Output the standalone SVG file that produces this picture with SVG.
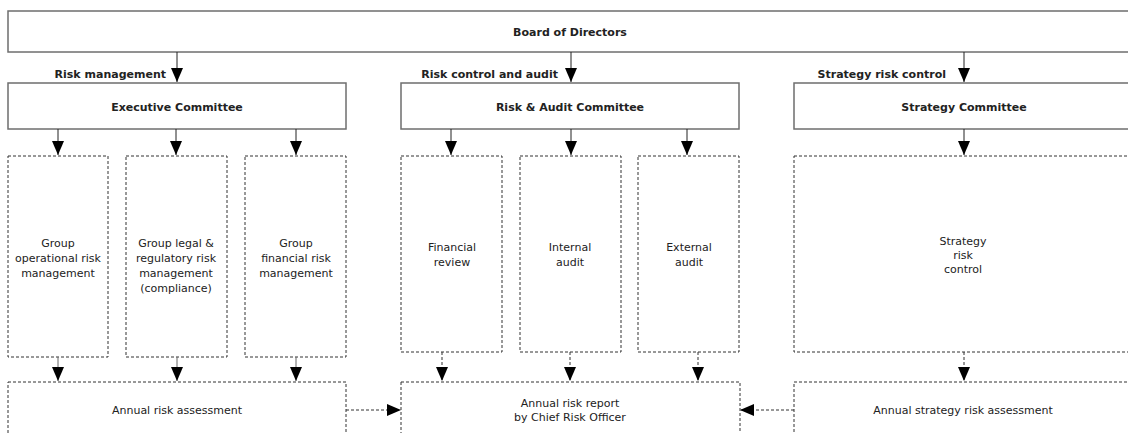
<svg xmlns="http://www.w3.org/2000/svg" width="1128" height="433" viewBox="0 0 1128 433">
<style>
text{font-family:"DejaVu Sans",Verdana,sans-serif;font-size:11px;fill:#222;text-anchor:middle}
.b{font-weight:bold}
.lbl{font-weight:bold;text-anchor:end}
.box{fill:#fff;stroke:#6e6e6e;stroke-width:1.5}
.dbox{fill:#fff;stroke:#333;stroke-width:1;stroke-dasharray:3,2}
.c{stroke:#222;stroke-width:1;fill:none;marker-end:url(#ah)}
.cg{stroke:#666;stroke-width:1;fill:none;marker-end:url(#ah)}
.cd{stroke:#333;stroke-width:1;fill:none;stroke-dasharray:3,2;marker-end:url(#ah)}
</style>
<defs>
<marker id="ah" markerUnits="userSpaceOnUse" markerWidth="14" markerHeight="12" refX="14" refY="6" orient="auto">
<path d="M0,0 L14,6 L0,12 Z" fill="#000"/>
</marker>
</defs>
<rect width="1128" height="433" fill="#fff"/>
<g id="board"><rect class="box" x="8" y="11" width="1130" height="41"/><text class="b" x="570" y="36">Board of Directors</text></g>
<g id="exec"><rect class="box" x="8" y="83" width="338" height="46"/><text class="b" x="177" y="111">Executive Committee</text></g>
<g id="rac"><rect class="box" x="401" y="83" width="338" height="46"/><text class="b" x="570" y="111">Risk &amp; Audit Committee</text></g>
<g id="strat"><rect class="box" x="794" y="83" width="340" height="46"/><text class="b" x="964" y="111">Strategy Committee</text></g>
<g id="op"><rect class="dbox" x="8" y="156" width="100" height="201"/><text x="58" y="247">Group</text><text x="58" y="262">operational risk</text><text x="58" y="277">management</text></g>
<g id="legal"><rect class="dbox" x="126" y="156" width="101" height="201"/><text x="176" y="247">Group legal &amp;</text><text x="176" y="262">regulatory risk</text><text x="176" y="277">management</text><text x="176" y="292">(compliance)</text></g>
<g id="fin"><rect class="dbox" x="245" y="156" width="101" height="201"/><text x="296" y="247">Group</text><text x="296" y="262">financial risk</text><text x="296" y="277">management</text></g>
<g id="finrev"><rect class="dbox" x="401" y="156" width="101" height="196"/><text x="452" y="251">Financial</text><text x="452" y="266">review</text></g>
<g id="intaudit"><rect class="dbox" x="520" y="156" width="101" height="196"/><text x="570" y="251">Internal</text><text x="570" y="266">audit</text></g>
<g id="extaudit"><rect class="dbox" x="638" y="156" width="101" height="196"/><text x="689" y="251">External</text><text x="689" y="266">audit</text></g>
<g id="stratctl"><rect class="dbox" x="794" y="156" width="340" height="196"/><text x="963" y="245">Strategy</text><text x="963" y="259">risk</text><text x="963" y="273">control</text></g>
<g id="assess"><rect class="dbox" x="8" y="382" width="338" height="60"/><text x="177" y="414">Annual risk assessment</text></g>
<g id="report"><rect class="dbox" x="401" y="382" width="339" height="60"/><text x="570" y="407">Annual risk report</text><text x="570" y="421">by Chief Risk Officer</text></g>
<g id="stratassess"><rect class="dbox" x="794" y="382" width="340" height="60"/><text x="963" y="414">Annual strategy risk assessment</text></g>
<g id="connectors">
<line class="c" x1="177" y1="52" x2="177" y2="82"/>
<line class="c" x1="571" y1="52" x2="571" y2="82"/>
<line class="c" x1="964" y1="52" x2="964" y2="82"/>
<text class="lbl" x="166" y="78">Risk management</text>
<text class="lbl" x="558" y="78">Risk control and audit</text>
<text class="lbl" x="946" y="78">Strategy risk control</text>
<line class="c" x1="58" y1="129" x2="58" y2="155"/>
<line class="c" x1="176" y1="129" x2="176" y2="155"/>
<line class="c" x1="296" y1="129" x2="296" y2="155"/>
<line class="c" x1="451" y1="129" x2="451" y2="155"/>
<line class="c" x1="571" y1="129" x2="571" y2="155"/>
<line class="c" x1="687" y1="129" x2="687" y2="155"/>
<line class="c" x1="964" y1="129" x2="964" y2="155"/>
<line class="cg" x1="58" y1="357" x2="58" y2="381"/>
<line class="cg" x1="177" y1="357" x2="177" y2="381"/>
<line class="cg" x1="296" y1="357" x2="296" y2="381"/>
<line class="cd" x1="442" y1="352" x2="442" y2="381"/>
<line class="cd" x1="570" y1="352" x2="570" y2="381"/>
<line class="cd" x1="698" y1="352" x2="698" y2="381"/>
<line class="cd" x1="964" y1="352" x2="964" y2="381"/>
<line class="cd" x1="346" y1="410" x2="401" y2="410"/>
<line class="cd" x1="794" y1="410" x2="740" y2="410"/>
</g>
</svg>
